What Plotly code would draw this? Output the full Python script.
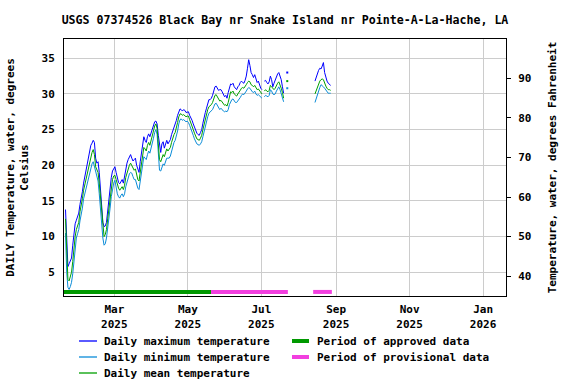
import pandas as pd
import plotly.graph_objects as go

title = "USGS 07374526 Black Bay nr Snake Island nr Pointe-A-La-Hache, LA"

# Daily values, one per day from 2025-01-19 to 2025-08-27 (None = no data)
first_day = "2025-01-19 12:00"
last_day = "2025-08-27 12:00"

tmax = [
    # Jan 19-31
    13.8, 9.5, 5.8, 6.2, 6.5, 7.0, 8.8, 10.9, 11.8, 12.3, 12.8, 13.3, 14.5,
    # Feb
    15.2, 16.3, 17.5, 18.4, 19.0, 19.8, 20.8, 22.0, 22.8, 23.1, 23.5, 23.2, 21.0, 20.3,
    20.5, 19.0, 17.0, 14.8, 12.0, 11.4, 11.5, 12.0, 13.8, 15.2, 16.5, 18.3, 19.2, 19.6,
    # Mar
    19.8, 19.0, 18.0, 17.6, 17.4, 17.8, 18.0, 17.5, 18.4, 19.6, 20.3, 20.8, 21.2, 21.5,
    21.0, 20.6, 20.8, 21.0, 20.0, 19.4, 19.0, 20.5, 21.6, 22.8, 24.0, 23.5, 23.2, 24.0,
    24.4, 24.0, 24.6,
    # Apr
    25.0, 25.6, 26.1, 26.2, 25.8, 24.2, 22.5, 21.8, 23.0, 23.3, 22.4, 23.2, 23.5, 23.0,
    23.3, 23.6, 24.3, 24.8, 25.2, 25.6, 26.3, 27.0, 27.6, 27.9, 27.8, 27.6, 27.8, 27.7,
    27.4, 27.5,
    # May
    27.5, 27.0, 26.7, 26.3, 25.8, 25.3, 24.8, 24.5, 24.3, 24.2, 24.6, 25.0, 25.9, 26.8,
    27.4, 28.0, 28.8, 29.2, 29.2, 29.4, 29.8, 30.4, 31.0, 31.1, 30.8, 30.5, 30.6, 30.6,
    30.3, 29.8, 29.6,
    # Jun
    29.8, 29.4, 30.2, 31.0, 31.4, 31.3, 31.5, 31.0, 30.7, 30.6, 31.0, 31.2, 31.6, 31.8,
    31.6, 31.5, 31.9, 32.5, 33.6, 34.8, 34.0, 33.0, 32.7, 32.3, 32.7, 32.0, 31.6, 31.8,
    31.2, 30.8,
    # Jul 1-22
    30.6, None, 31.8, 31.9, 31.6, 31.4, 31.7, 32.5, 32.0, 31.0, 31.5, 32.0, 32.6, 32.8,
    33.0, 32.5, 32.0, 31.0, 30.1, None, None, 33.0,
    # Jul 23 - Aug 13 (no data)
    None, None, None, None, None, None, None, None, None, None, None,
    None, None, None, None, None, None, None, None, None, None, None,
    # Aug 14-27
    31.8, 32.4, 33.0, 33.3, 33.6, 33.5, 33.9, 34.4, 33.0, 32.3, 31.8, 31.5, 31.3, 31.2,
]

tmean = [
    12.5, 7.0, 4.0, 3.8, 4.3, 5.0, 6.5, 8.5, 10.0, 11.0, 11.5, 12.0, 13.5,
    14.2, 15.3, 16.5, 17.3, 18.0, 18.6, 19.5, 20.5, 21.3, 21.8, 22.2, 21.5, 19.8, 19.5,
    19.0, 17.5, 15.5, 13.0, 11.0, 10.0, 10.3, 11.0, 12.5, 14.0, 15.5, 17.0, 18.0, 18.5,
    18.6, 18.0, 17.2, 16.8, 16.5, 16.8, 17.0, 16.6, 17.2, 18.3, 19.0, 19.5, 20.0, 20.3,
    20.0, 19.6, 19.3, 19.5, 18.8, 18.0, 17.8, 19.0, 20.2, 21.5, 22.5, 22.3, 22.0, 22.8,
    23.2, 22.8, 23.5,
    24.0, 24.8, 25.5, 25.8, 25.2, 23.0, 20.8, 20.5, 21.0, 21.5, 21.2, 21.8, 22.3, 22.0,
    22.2, 22.5, 23.2, 23.8, 24.3, 24.6, 25.2, 26.0, 26.8, 27.2, 27.2, 27.0, 27.1, 27.0,
    26.8, 26.9,
    26.9, 26.4, 26.0, 25.6, 25.0, 24.5, 24.0, 23.7, 23.6, 23.5, 23.8, 24.2, 25.0, 25.8,
    26.3, 27.0, 27.8, 28.2, 28.3, 28.5, 28.8, 29.3, 29.8, 29.9, 29.6, 29.2, 29.0, 29.1,
    28.8, 28.6, 28.4,
    28.5, 28.3, 28.8, 29.6, 30.3, 30.2, 30.4, 30.0, 29.8, 29.7, 30.0, 30.2, 30.5, 30.8,
    30.9, 30.8, 31.0, 31.3, 31.6, 31.8, 31.7, 31.3, 31.2, 31.0, 31.2, 30.8, 30.6, 30.7,
    30.4, 30.2,
    30.0, None, 30.4, 30.6, 30.4, 30.3, 30.5, 31.2, 31.0, 30.7, 30.6, 30.8, 31.2, 31.5,
    31.7, 31.3, 30.8, 30.2, 29.4, None, None, 31.8,
    None, None, None, None, None, None, None, None, None, None, None,
    None, None, None, None, None, None, None, None, None, None, None,
    30.0, 30.5, 31.0, 31.4, 31.8, 32.0, 32.1, 32.0, 31.4, 31.1, 30.8, 30.6, 30.6, 30.5,
]

tmin = [
    10.5, 5.0, 2.9, 2.6, 3.0, 3.6, 4.8, 6.8, 8.5, 9.8, 10.4, 11.0, 12.2,
    13.0, 14.0, 15.3, 16.0, 16.8, 17.4, 18.2, 19.0, 19.8, 20.2, 20.5, 19.8, 18.8, 18.5,
    17.8, 16.0, 13.8, 11.5, 9.8, 8.8, 9.0, 9.8, 11.0, 12.5, 14.0, 15.6, 16.8, 17.5,
    17.9, 16.8, 16.0, 15.6, 15.4, 15.8, 16.0, 15.6, 16.0, 17.0, 17.6, 18.2, 18.8, 19.0,
    18.9, 18.4, 18.0, 18.0, 17.4, 16.8, 16.6, 17.6, 18.8, 20.2, 21.2, 21.0, 20.8, 21.5,
    22.0, 21.7, 22.3,
    23.0, 23.8, 24.6, 25.0, 24.3, 21.5, 19.3, 19.2, 19.6, 20.2, 20.0, 20.5, 21.0, 21.0,
    21.0, 21.3, 22.0, 22.6, 23.2, 23.5, 24.0, 24.8, 25.8, 26.4, 26.5, 26.3, 26.4, 26.3,
    26.1, 26.2,
    26.0, 25.6, 25.2, 24.8, 24.2, 23.7, 23.3, 23.0, 22.9, 22.8, 23.0, 23.3, 24.0, 24.8,
    25.3, 26.0, 26.8, 27.3, 27.5, 27.6, 27.8, 28.2, 28.6, 28.7, 28.4, 28.0, 27.8, 28.0,
    27.7, 27.6, 27.5,
    27.6, 27.5, 27.8, 28.5, 29.0, 29.2, 29.3, 29.0, 28.8, 28.8, 29.0, 29.2, 29.5, 29.8,
    30.0, 29.9, 30.1, 30.4, 30.7, 30.9, 30.8, 30.5, 30.3, 30.2, 30.4, 30.0, 29.8, 29.9,
    29.7, 29.6,
    29.4, None, 29.6, 29.8, 29.7, 29.6, 29.8, 30.6, 30.4, 30.0, 29.9, 30.0, 30.4, 30.7,
    31.0, 30.6, 30.0, 29.4, 28.9, None, None, 30.8,
    None, None, None, None, None, None, None, None, None, None, None,
    None, None, None, None, None, None, None, None, None, None, None,
    28.8, 29.4, 29.9, 30.4, 30.9, 31.3, 31.2, 31.0, 30.8, 30.5, 30.3, 30.1, 30.1, 30.1,
]

approved_periods = [("2025-01-18", "2025-05-20 06:00")]
provisional_periods = [("2025-05-20 06:00", "2025-07-23"),
                       ("2025-08-13", "2025-08-28 12:00")]
period_level = 2.25  # degrees C, strip along the bottom of the plot

x_range = ["2025-01-18 06:00", "2026-01-20"]
y_range_c = [1.68, 37.7]

dates = pd.date_range(first_day, last_day, freq="D")

C_MAX = "#0000FF"
C_MIN = "#0A8CD8"
C_MEAN = "#00A000"
C_APPR = "#009900"
C_PROV = "#F23FDF"

FONT = "DejaVu Sans Mono"
bold = dict(family=FONT, size=11, color="black", weight="bold")

# page geometry (px) of the plotting area
W, H = 576, 384
PL, PR, PT, PB = 64, 506, 39, 296

fig = go.Figure()


def isolated(vals):
    xs, ys = [], []
    for i, v in enumerate(vals):
        if v is None:
            continue
        prev_none = i == 0 or vals[i - 1] is None
        next_none = i == len(vals) - 1 or vals[i + 1] is None
        if prev_none and next_none:
            xs.append(dates[i])
            ys.append(v)
    return xs, ys


series = [(tmax, C_MAX, "Daily maximum temperature"),
          (tmin, C_MIN, "Daily minimum temperature"),
          (tmean, C_MEAN, "Daily mean temperature")]
for vals, color, name in series:
    fig.add_trace(go.Scatter(x=dates, y=vals, mode="lines", name=name,
                             line=dict(color=color, width=1), connectgaps=False,
                             showlegend=False, hoverinfo="skip"))
    ix, iy = isolated(vals)
    fig.add_trace(go.Scatter(x=ix, y=iy, mode="markers", showlegend=False,
                             marker=dict(color=color, size=2, symbol="square"),
                             hoverinfo="skip"))

periods_list = [(approved_periods, C_APPR, "Period of approved data"),
                (provisional_periods, C_PROV, "Period of provisional data")]
for periods, color, name in periods_list:
    for s, e in periods:
        fig.add_trace(go.Scatter(x=[s, e], y=[period_level, period_level], mode="lines",
                                 line=dict(color=color, width=4), name=name,
                                 showlegend=False, hoverinfo="skip"))

# invisible trace to activate the Fahrenheit axis
fig.add_trace(go.Scatter(x=[dates[0]], y=[y_range_c[0] * 1.8 + 32], yaxis="y2",
                         mode="markers", marker=dict(opacity=0), showlegend=False,
                         hoverinfo="skip"))


# legend drawn below the plot (two columns)
def px_x(p):
    return (p - PL) / (PR - PL)


def px_y(p):
    return (PB - p) / (PB - PT)


legend_rows = [341, 357, 373]
shapes, annotations = [], []
col1 = [(C_MAX, 1.3, "Daily maximum temperature"),
        (C_MIN, 1.3, "Daily minimum temperature"),
        (C_MEAN, 1.3, "Daily mean temperature")]
col2 = [(C_APPR, 4, "Period of approved data"),
        (C_PROV, 4, "Period of provisional data")]
for items, x0, x1, xt in [(col1, 79, 97, 102), (col2, 292, 309, 315)]:
    for (color, w, label), row in zip(items, legend_rows):
        shapes.append(dict(type="line", xref="paper", yref="paper",
                           x0=px_x(x0), x1=px_x(x1), y0=px_y(row), y1=px_y(row),
                           line=dict(color=color, width=w)))
        annotations.append(dict(text=label, xref="paper", yref="paper",
                                x=px_x(xt), y=px_y(row), xanchor="left",
                                yanchor="middle", showarrow=False, font=bold))

fig.update_layout(
    width=W, height=H, autosize=False,
    margin=dict(l=PL, r=W - PR, t=PT, b=H - PB, autoexpand=False),
    paper_bgcolor="white", plot_bgcolor="white",
    font=bold,
    title=dict(text=title, x=0.5, xref="paper", y=1 - 20 / H, yref="container",
               yanchor="middle", xanchor="center",
               font=dict(family=FONT, size=11.6, color="black", weight="bold")),
    xaxis=dict(type="date", range=x_range, dtick="M2", tick0="2025-03-01",
               tickformat="%b<br>%Y", showgrid=True, gridcolor="#CCCCCC", gridwidth=1,
               showline=True, linecolor="black", linewidth=1, mirror=True,
               ticks="", tickfont=bold, zeroline=False, automargin=False,
               ticklabelstandoff=3),
    yaxis=dict(range=y_range_c, dtick=5, tick0=0, showgrid=True, gridcolor="#CCCCCC",
               showline=True, linecolor="black", linewidth=1, mirror=True,
               ticks="", tickfont=bold, zeroline=False, ticklabelstandoff=6,
               automargin=False,
               title=dict(text="DAILY Temperature, water, degrees<br>Celsius",
                          font=bold, standoff=10)),
    yaxis2=dict(overlaying="y", side="right",
                range=[y_range_c[0] * 1.8 + 32, y_range_c[1] * 1.8 + 32],
                dtick=10, tick0=0, showgrid=False, zeroline=False,
                ticks="outside", ticklen=4, tickcolor="black", tickfont=bold,
                showline=False, ticklabelstandoff=5, automargin=False,
                title=dict(text="Temperature, water, degrees Fahrenheit",
                           font=bold, standoff=17)),
    shapes=shapes,
    annotations=annotations,
    showlegend=False,
)

fig.write_html("out.html", config={"displayModeBar": False},
               post_script="document.body.style.margin='0';")
